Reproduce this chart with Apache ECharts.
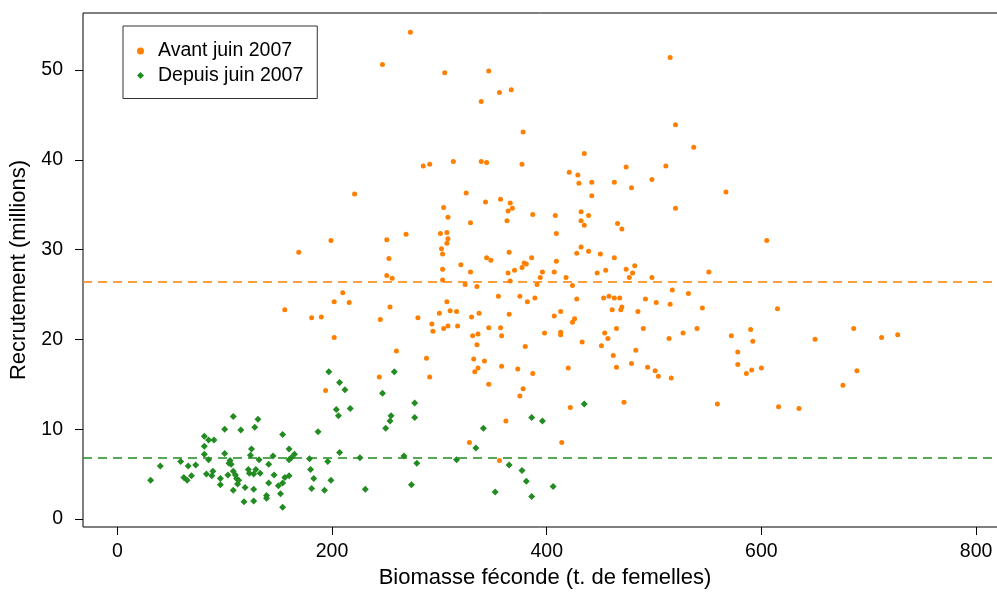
<!DOCTYPE html>
<html>
<head>
<meta charset="utf-8">
<script src="https://cdn.jsdelivr.net/npm/echarts@6/dist/echarts.min.js"></script>
<style>
  html, body { margin: 0; padding: 0; background: #fff; }
  #chart { width: 997px; height: 592px; }
</style>
</head>
<body>
<div id="chart"></div>
<script>
// points avant juin 2007 : [biomasse, recrutement]
const avantPoints = [
  [273,54.2],[247,50.6],[305,49.7],[346,49.9],[356,47.5],[367,47.8],[339,46.5],[378,43.1],
  [285,39.3],[291,39.5],[313,39.8],[339,39.8],[344,39.7],[377,39.5],[221,36.2],[325,36.3],
  [357,35.6],[515,51.4],
  [520,43.9],[537,41.4],[435,40.7],[474,39.2],[511,39.3],[421,38.6],[429,38.3],[430,37.4],
  [442,37.5],[463,37.5],[498,37.8],[479,36.9],[567,36.4],[442,36.0],[520,34.6],[387,33.9],
  [408,33.8],[432,34.2],[439,33.8],[432,33.2],[435,32.7],[466,32.9],[470,32.3],
  [409,31.8],[432,30.3],[428,29.6],[439,29.8],[450,29.5],[463,29.1],[386,29.1],[379,28.5],
  [381,28.4],[377,28.0],[409,28.7],[407,27.5],[396,27.5],[394,26.9],[391,26.1],[418,26.9],
  [447,27.4],[455,27.7],[474,27.8],[482,28.2],[480,27.4],[477,26.9],[498,26.9],[551,27.5],
  [424,26.0],[375,24.8],[389,24.6],[382,24.2],[428,24.5],[453,24.6],[458,24.8],[463,24.6],
  [468,24.6],[492,24.5],[502,24.1],[517,25.5],[532,25.1],[515,23.9],[545,23.5],[461,23.3],
  [469,23.3],[470,23.6],[485,23.1],[413,23.1],[407,22.6],[426,22.3],[424,21.9],[465,21.2],
  [490,21.2],[540,21.2],[398,20.7],[413,20.8],[413,20.5],[454,20.7],[527,20.7],[457,20.1],
  [514,20.1],[433,19.7],[380,19.2],[451,19.3],[483,18.8],[462,18.2],[479,17.3],[465,16.9],
  [420,16.8],[494,16.9],[501,16.5],[504,15.9],[516,15.7],[387,16.2],
  [378,14.5],[375,13.7],[422,12.4],[472,13.0],[559,12.8],[414,8.5],
  [605,31.0],[615,23.4],[590,21.1],[572,20.4],[592,19.8],[686,21.2],[650,20.0],[712,20.2],
  [727,20.5],[578,18.6],[578,17.2],[586,16.2],[591,16.6],[600,16.8],[689,16.5],[676,14.9],
  [616,12.5],[635,12.3],
  [343,35.3],[366,35.2],[368,34.6],[364,34.3],[304,34.7],[308,33.6],[329,33.0],[363,33.2],
  [301,31.8],[307,31.9],[308,31.2],[307,30.7],[269,31.7],[251,31.1],[199,31.0],[302,30.1],
  [303,29.5],[253,29.0],[344,29.1],[348,28.8],[365,29.7],[320,28.3],[303,27.8],[329,27.5],
  [364,27.4],[370,27.7],[251,27.1],[256,26.8],[303,26.6],[366,26.5],[324,26.1],[335,25.9],
  [210,25.2],[202,24.2],[216,24.1],[355,24.8],[307,24.2],[254,23.6],[245,22.2],[280,22.4],
  [300,22.9],[310,23.2],[316,23.1],[337,22.9],[330,22.5],[365,22.8],[293,21.7],[294,20.9],
  [304,21.2],[308,21.5],[317,21.5],[346,21.3],[357,21.3],[331,20.4],[336,20.6],[358,20.4],
  [202,20.2],[335,19.4],[260,18.7],[288,17.9],[332,17.8],[342,17.6],[358,17.0],[373,16.7],
  [336,16.8],
  [244,15.8],[291,15.8],[194,14.3],[333,16.4],[346,15.0],[362,10.9],[328,8.5],[356,6.5],
  [169,29.7],[156,23.3],[181,22.4],[190,22.5]
];

// points depuis juin 2007
const depuisPoints = [
  [435,12.8],[386,11.3],[396,10.9],[377,5.4],[381,4.2],[406,3.6],
  [197,16.4],[258,16.4],[207,15.2],[212,14.4],[247,14.0],[277,12.9],[204,12.2],[217,12.3],
  [206,11.5],[255,11.5],[277,11.3],[254,10.9],[250,10.1],[341,10.1],[334,7.9],[207,7.4],
  [196,6.4],[226,6.8],[267,7.0],[279,6.2],[316,6.6],[365,6.0],[386,2.5],[352,3.0],
  [199,4.3],[193,3.2],[231,3.3],[274,3.8],
  [108,11.4],[131,11.1],[100,10.0],[115,9.9],[128,10.2],[187,9.7],[154,9.4],[81,9.2],
  [85,8.8],[90,8.8],[81,8.1],[125,7.8],[160,7.8],[100,7.3],[81,7.2],[124,7.1],
  [145,7.0],[165,7.2],[162,6.8],[160,6.6],[179,6.7],[85,6.6],[59,6.4],[105,6.5],
  [132,6.6],[104,6.2],[106,6.1],[66,5.9],[73,6.0],[40,5.9],[141,6.1],[180,5.5],
  [83,5.0],[89,5.3],[88,4.8],[108,5.3],[103,4.9],[110,4.9],[122,5.5],[129,5.5],
  [123,5.1],[127,5.0],[133,5.1],[146,4.9],[111,4.5],[113,4.3],[112,3.9],[96,4.5],
  [96,3.8],[62,4.6],[65,4.3],[69,4.8],[31,4.3],[156,4.6],[160,4.8],[154,4.0],
  [150,3.7],[141,4.0],[183,4.5],[108,3.2],[119,3.5],[127,3.3],[181,3.4],[139,2.6],
  [139,2.3],[152,2.8],[118,1.9],[127,2.0],[154,1.3]
];

// moyennes (lignes pointillées)
const avantMoyenne = 26.4;
const depuisMoyenne = 6.8;

const xTicks = [0, 200, 400, 600, 800];
const yTicks = [0, 10, 20, 30, 40, 50];

const orange = "#ff7f00";
const vert = "#228b22";
const police = "Liberation Sans";

const myChart = echarts.init(document.getElementById("chart"));
const option = {
  animation: false,
  backgroundColor: "#fff",
  grid: {
    left: 83,
    top: 13,
    right: -22,
    bottom: 65,
    outerBoundsMode: "none",
    show: true,
    borderColor: "#000",
    borderWidth: 1,
  },
  legend: {
    orient: "vertical",
    left: 123,
    top: 26,
    padding: [15, 14, 13, 14],
    itemGap: 4.5,
    itemWidth: 7,
    itemHeight: 7,
    borderColor: "#333",
    borderWidth: 1,
    backgroundColor: "#fff",
    textStyle: { fontFamily: police, fontSize: 19.5, color: "#000", padding: [0, 0, 0, 9] },
    data: [
      { name: "Avant juin 2007", icon: "circle", itemStyle: { color: orange } },
      { name: "Depuis juin 2007", icon: "diamond", itemStyle: { color: vert } },
    ],
  },
  xAxis: {
    type: "value",
    min: -32,
    max: 840,
    name: "Biomasse féconde (t. de femelles)",
    nameLocation: "middle",
    nameGap: 40,
    nameTextStyle: { fontFamily: police, fontSize: 22, color: "#000", padding: [0, 12, 0, 0] },
    axisLine: { show: false, onZero: false },
    axisTick: { show: true, length: 8, customValues: xTicks, lineStyle: { color: "#000" } },
    axisLabel: { customValues: xTicks, margin: 15, fontFamily: police, fontSize: 19.5, color: "#000" },
    splitLine: { show: false },
  },
  yAxis: {
    type: "value",
    min: -0.9,
    max: 56.35,
    name: "Recrutement (millions)",
    nameLocation: "middle",
    nameGap: 52,
    nameTextStyle: { fontFamily: police, fontSize: 22, color: "#000" },
    axisLine: { show: false, onZero: false },
    axisTick: { show: true, length: 8, customValues: yTicks, lineStyle: { color: "#000" } },
    axisLabel: { customValues: yTicks, margin: 20, fontFamily: police, fontSize: 19.5, color: "#000" },
    splitLine: { show: false },
  },
  series: [
    {
      name: "Avant juin 2007",
      type: "scatter",
      symbol: "circle",
      symbolSize: 5,
      itemStyle: { color: orange, opacity: 1 },
      data: avantPoints,
      markLine: {
        silent: true,
        symbol: "none",
        label: { show: false },
        lineStyle: { color: orange, type: [9, 6], width: 1.5 },
        data: [{ yAxis: avantMoyenne }],
      },
    },
    {
      name: "Depuis juin 2007",
      type: "scatter",
      symbol: "diamond",
      symbolSize: 7,
      itemStyle: { color: vert, opacity: 1 },
      data: depuisPoints,
      markLine: {
        silent: true,
        symbol: "none",
        label: { show: false },
        lineStyle: { color: vert, type: [9, 6], width: 1.5 },
        data: [{ yAxis: depuisMoyenne }],
      },
    },
  ],
};
myChart.setOption(option);
window.onresize = function () {
  myChart.resize();
};
</script>
</body>
</html>
